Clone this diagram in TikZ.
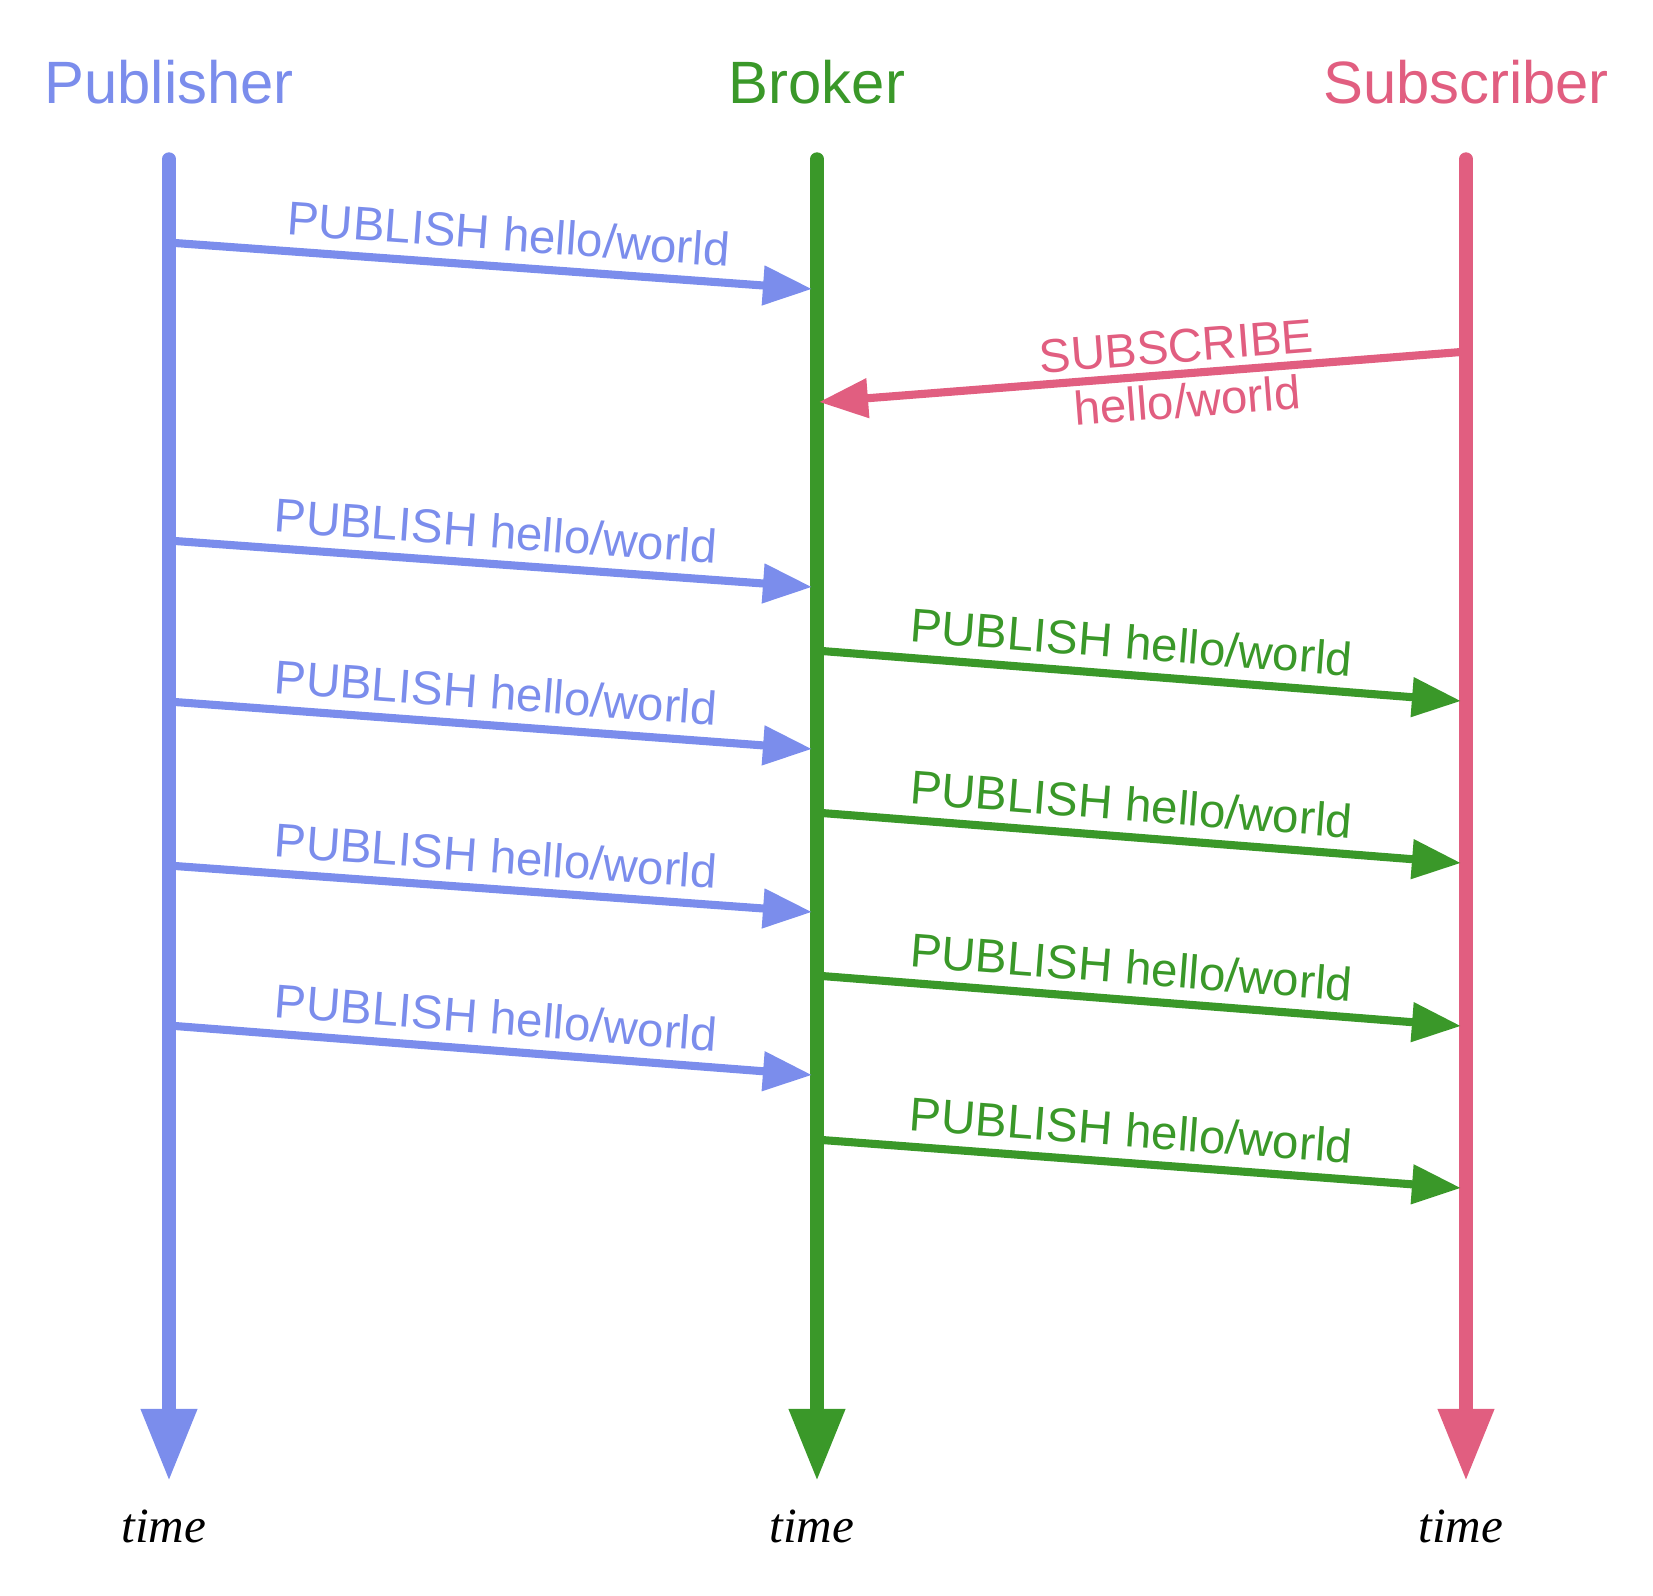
\documentclass[tikz,border=0pt]{standalone}
\usepackage{fontspec}
\setmainfont{Liberation Sans}
\newfontfamily\timefont{Liberation Serif}
\usetikzlibrary{arrows.meta}

\definecolor{pubblue}{RGB}{123,141,236}
\definecolor{brokergreen}{RGB}{58,152,41}
\definecolor{subpink}{RGB}{225,94,128}

\begin{document}
\begin{tikzpicture}[x=0.01cm, y=-0.01cm,
    lifeline/.style = {line width=3.8pt, line cap=round, -{Triangle[length=7.2mm,width=5.3mm]}},
    msg/.style = {line width=2.3pt, -{Triangle[length=4.9mm,width=3.8mm]}},
    actor/.style = {anchor=base, font=\fontsize{17}{20}\selectfont},
    msglabel/.style = {sloped, font=\fontsize{13.5}{16}\selectfont},
    timelabel/.style = {anchor=base, font=\timefont\itshape\fontsize{14}{17}\selectfont}]
    \useasboundingbox (0,0) rectangle (1653,1596);

    % actors
    \node[actor, text=pubblue] (pub) at (169,103) {Publisher};
    \node[actor, text=brokergreen] (broker) at (817,103) {Broker};
    \node[actor, text=subpink] (sub) at (1466,103) {Subscriber};

    % lifelines
    \coordinate (pubtop) at (169,159);
    \coordinate (pubend) at (169,1481);
    \coordinate (brokertop) at (817,159);
    \coordinate (brokerend) at (817,1481);
    \coordinate (subtop) at (1466,159);
    \coordinate (subend) at (1466,1481);
    \draw[lifeline, pubblue] (pubtop) -- (pubend);
    \draw[lifeline, brokergreen] (brokertop) -- (brokerend);
    \draw[lifeline, subpink] (subtop) -- (subend);

    \node[timelabel] (pubtime) at (164,1542) {time};
    \node[timelabel] (brokertime) at (812,1542) {time};
    \node[timelabel] (subtime) at (1461,1542) {time};

    % publisher -> broker
    \coordinate (p1) at (175,243);  \coordinate (b1) at (812,289);
    \coordinate (p2) at (175,541);  \coordinate (b2) at (812,587);
    \coordinate (p3) at (175,702);  \coordinate (b3) at (812,749);
    \coordinate (p4) at (175,866);  \coordinate (b4) at (812,912);
    \coordinate (p5) at (175,1026); \coordinate (b5) at (812,1075);
    \draw[msg, pubblue] (p1) -- node[msglabel, above, pos=.52] {PUBLISH hello/world} (b1);
    \draw[msg, pubblue] (p2) -- node[msglabel, above] {PUBLISH hello/world} (b2);
    \draw[msg, pubblue] (p3) -- node[msglabel, above] {PUBLISH hello/world} (b3);
    \draw[msg, pubblue] (p4) -- node[msglabel, above] {PUBLISH hello/world} (b4);
    \draw[msg, pubblue] (p5) -- node[msglabel, above] {PUBLISH hello/world} (b5);

    % subscriber -> broker
    \coordinate (s0) at (1461,352); \coordinate (b0) at (819,402);
    \draw[msg, subpink] (s0) -- node[msglabel, above, pos=.44, inner sep=2pt] {SUBSCRIBE}
        node[msglabel, below, pos=.43, inner sep=1.5pt] {hello/world} (b0);

    % broker -> subscriber
    \coordinate (c1) at (822,651);  \coordinate (s1) at (1461,701);
    \coordinate (c2) at (822,813);  \coordinate (s2) at (1461,863);
    \coordinate (c3) at (822,976);  \coordinate (s3) at (1461,1026);
    \coordinate (c4) at (822,1140); \coordinate (s4) at (1461,1188);
    \draw[msg, brokergreen] (c1) -- node[msglabel, above, pos=.48] {PUBLISH hello/world} (s1);
    \draw[msg, brokergreen] (c2) -- node[msglabel, above, pos=.48] {PUBLISH hello/world} (s2);
    \draw[msg, brokergreen] (c3) -- node[msglabel, above, pos=.48] {PUBLISH hello/world} (s3);
    \draw[msg, brokergreen] (c4) -- node[msglabel, above, pos=.48] {PUBLISH hello/world} (s4);
\end{tikzpicture}
\end{document}
